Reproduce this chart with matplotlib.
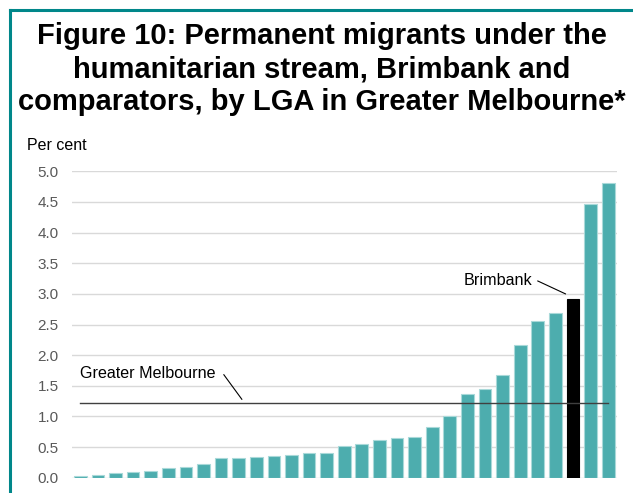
import matplotlib
matplotlib.use("Agg")
import matplotlib.pyplot as plt
from matplotlib.lines import Line2D

plt.rcParams['font.family'] = ['Liberation Sans', 'DejaVu Sans']

values = [0.03, 0.04, 0.08, 0.10, 0.11, 0.16, 0.18, 0.22, 0.32, 0.32, 0.33,
          0.35, 0.37, 0.40, 0.40, 0.52, 0.555, 0.62, 0.65, 0.67, 0.83, 1.01,
          1.36, 1.45, 1.67, 2.17, 2.56, 2.68, 2.91, 4.47, 4.81]
highlight_index = 28
greater_melbourne = 1.22
yticks = [0.0, 0.5, 1.0, 1.5, 2.0, 2.5, 3.0, 3.5, 4.0, 4.5, 5.0]
title = ("Figure 10: Permanent migrants under the\n"
         "humanitarian stream, Brimbank and\n"
         "comparators, by LGA in Greater Melbourne*")

W, H = 633, 493
fig = plt.figure(figsize=(W / 100, H / 100), dpi=100)
ax = fig.add_axes([72 / W, 15.3 / H, 545 / W, 306.4 / H])

x = list(range(len(values)))
colors = ['#000000' if i == highlight_index else '#4DADAE' for i in x]
edges = ['#000000' if i == highlight_index else '#A9D9D9' for i in x]
ax.bar(x, values, width=0.72, color=colors, edgecolor=edges, linewidth=0.8, zorder=3)

ax.plot([0, len(values) - 1], [greater_melbourne, greater_melbourne],
        color='#404040', lw=1.0, zorder=4)

ax.set_xlim(-0.47, len(values) - 0.5)
ax.set_ylim(0, 5.0)
ax.set_yticks(yticks)
ax.set_yticklabels([f"{v:.1f}" for v in yticks])
ax.tick_params(axis='y', length=0, pad=9.5, labelsize=11, labelcolor='#595959')
ax.set_xticks([])
ax.grid(axis='y', color='#D9D9D9', lw=1.0, zorder=0)
for s in ax.spines.values():
    s.set_visible(False)

# annotations
ax.text(0, 1.70, "Greater Melbourne", fontsize=11.6, ha='left', va='center', color='#000000')
ax.plot([8.16, 9.18], [1.68, 1.28], color='#000000', lw=0.8)
ax.text(25.67, 3.22, "Brimbank", fontsize=11.6, ha='right', va='center', color='#000000')
ax.plot([26.0, 27.57], [3.21, 3.0], color='#000000', lw=0.8)

fig.text(27 / W, 1 - 146 / H, "Per cent", fontsize=11.5, ha='left', va='center')

fig.text(322 / W, 1 - 69 / H, title, fontsize=21, fontweight='bold',
         ha='center', va='center', linespacing=1.22)

# teal frame (left and top)
fx = 9.5 / W
fy = 1 - 9.5 / H
fig.add_artist(Line2D([fx, fx], [0, fy], transform=fig.transFigure,
                      color='#00878A', lw=2.2, solid_capstyle='projecting'))
fig.add_artist(Line2D([fx, 1], [fy, fy], transform=fig.transFigure,
                      color='#00878A', lw=2.2, solid_capstyle='projecting'))

fig.savefig("out.png", dpi=100)
